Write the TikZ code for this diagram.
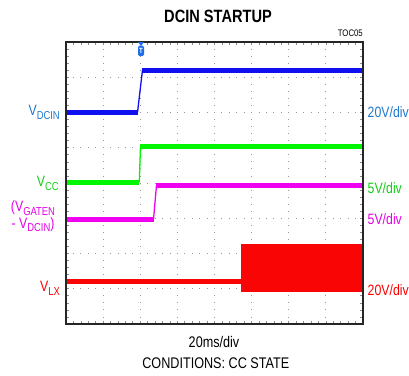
\documentclass[tikz,border=0pt]{standalone}
\usepackage{fontspec}
\setmainfont{Liberation Sans}[FakeStretch=0.82]
\usepackage{graphicx}
\usetikzlibrary{calc}
\definecolor{dcinblue}{RGB}{30,120,205}
\definecolor{vccgreen}{RGB}{20,205,20}
\definecolor{gatemag}{RGB}{230,0,230}
\definecolor{lxred}{RGB}{255,0,0}
\definecolor{tblue}{RGB}{15,15,240}
\definecolor{tgreen}{RGB}{0,245,0}
\definecolor{tmag}{RGB}{240,0,240}
\definecolor{tred}{RGB}{250,5,5}
\definecolor{trigblue}{RGB}{30,110,235}
\newcommand{\lsub}[1]{\raisebox{-3.5pt}{\fontsize{11.5}{12}\selectfont #1}}
\tikzset{
    scopebox/.style = {draw=black!85, line width=1.4pt},
    griddot/.style = {draw=black!40, line width=0.9pt},
    edgetick/.style = {draw=black!45, line width=0.7pt},
    tracebar/.style = {line width=5pt},
    tracerise/.style = {line width=1.3pt},
    lbl/.style = {font=\fontsize{15}{16}\selectfont, inner sep=0pt},
    scalelbl/.style = {lbl, anchor=base west},
    siglbl/.style = {lbl, anchor=base east},
    trigmark/.style = {fill=trigblue, rounded corners=1.5pt, text=white,
        inner sep=0pt, minimum width=6pt, minimum height=10.5pt,
        font=\bfseries\fontsize{7.5}{7.5}\selectfont}
}
\def\trigtip{%
    -- +(-3,-4) -- +(3,-4) -- cycle
}
\begin{document}
\begin{tikzpicture}[x=1pt, y=-1pt]
    \useasboundingbox (0,0) rectangle (409,375);
    % graticule
    \foreach \i in {1,...,7} {
        \draw[griddot, dash pattern=on 0.9pt off 6.15pt, dash phase=0.45pt]
            ({66+37.125*\i},42) -- ({66+37.125*\i},324);
        \draw[griddot, dash pattern=on 0.9pt off 6.525pt, dash phase=0.45pt]
            (66,{42+35.25*\i}) -- (363,{42+35.25*\i});
    }
    \foreach \j in {1,...,39} {
        \draw[edgetick] ({66+7.425*\j},42) -- ++(0,3);
        \draw[edgetick] ({66+7.425*\j},324) -- ++(0,-3);
        \draw[edgetick] (66,{42+7.05*\j}) -- ++(3,0);
        \draw[edgetick] (363,{42+7.05*\j}) -- ++(-3,0);
    }
    % traces
    \draw[tracebar, tblue] (66,112.5) -- (137.5,112.5);
    \draw[tracerise, tblue] (137.5,112.5) -- (142.5,70);
    \draw[tracebar, tblue] (142,70) -- (363,70);
    \draw[tracebar, tgreen] (66,182) -- (139.3,182);
    \draw[tracerise, tgreen] (139.3,182) -- (140.5,146);
    \draw[tracebar, tgreen] (140,146) -- (363,146);
    \draw[tracebar, tmag] (66,219.3) -- (153.5,219.3);
    \draw[tracerise, tmag] (153.5,219.3) -- (156.5,185.3);
    \draw[tracebar, tmag] (156,185.3) -- (363,185.3);
    \draw[tracebar, tred] (66,281.3) -- (241,281.3);
    \fill[tred] (241,244.3) rectangle (363,291.7);
    \draw[scopebox] (66,42) rectangle (363,324);
    \fill[trigblue] (141,46) \trigtip;
    \node[trigmark] (trig) at (141,50.8) {T};
    % texts
    \node[font=\bfseries\fontsize{17.8}{20}\selectfont, anchor=base, inner sep=0pt] (title) at (218,22.7) {DCIN STARTUP};
    \node[font=\fontsize{9.5}{10}\selectfont, anchor=base east, inner sep=0pt] (toc) at (363,36) {TOC05};
    \node[siglbl, dcinblue] (vdcin) at (60,115.5) {V\lsub{DCIN}};
    \node[scalelbl, dcinblue] (sdcin) at (367.5,117) {20V/div};
    \node[siglbl, vccgreen] (vcc) at (59,186.5) {V\lsub{CC}};
    \node[scalelbl, vccgreen] (svcc) at (367.5,193.5) {5V/div};
    \node[lbl, gatemag, align=center, anchor=north, font=\fontsize{15}{16.5}\selectfont] (vgate) at (33,200.5) {(V\lsub{GATEN}\\- V\lsub{DCIN})};
    \node[scalelbl, gatemag] (sgate) at (367.5,224) {5V/div};
    \node[siglbl, lxred] (vlx) at (60,291.5) {V\lsub{LX}};
    \node[scalelbl, lxred] (slx) at (367.5,295.5) {20V/div};
    \node[lbl, font=\fontsize{15.4}{17}\selectfont, anchor=base] (xscale) at (214,347) {20ms/div};
    \node[lbl, font=\fontsize{15.4}{17}\selectfont, anchor=base] (cond) at (215.8,368.3) {CONDITIONS: CC STATE};
\end{tikzpicture}
\end{document}
